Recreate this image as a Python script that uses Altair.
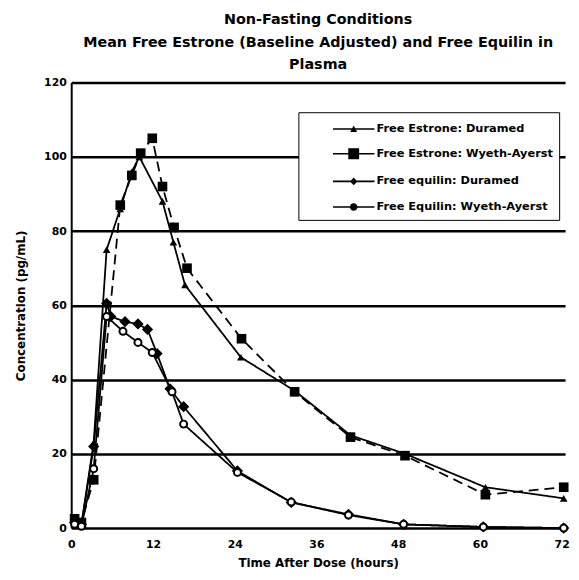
import altair as alt
import pandas as pd

series_names = [
    "Free Estrone: Duramed",
    "Free Estrone: Wyeth-Ayerst",
    "Free equilin: Duramed",
    "Free Equilin: Wyeth-Ayerst",
]

# Free Estrone: Duramed (triangles, solid)
e_dur_t = [0.5, 1.5, 3.3, 5.2, 7.2, 8.9, 10.0, 13.4, 15.0, 16.7, 24.9, 32.8, 41.0, 49.0, 60.8, 72.3]
e_dur_v = [2, 1, 23, 75, 86, 96, 100, 88, 77, 65.5, 46, 37, 25, 20, 11, 8]

# Free Estrone: Wyeth-Ayerst (squares, dashed)
e_wy_t = [0.5, 1.5, 3.3, 7.2, 8.9, 10.2, 11.9, 13.4, 15.1, 17.0, 25.0, 32.8, 41.0, 49.0, 60.8, 72.3]
e_wy_v = [2.5, 1.5, 13, 87, 95, 101, 105, 92, 81, 70, 51, 36.7, 24.5, 19.5, 9, 11]

# Free equilin: Duramed
q_dur_t = [0.5, 1.5, 3.3, 5.2, 5.8, 7.9, 9.8, 11.2, 12.6, 14.5, 16.5, 24.4, 32.3, 40.7, 48.8, 60.5, 72.3]
q_dur_v = [1.5, 1, 22, 60.5, 57, 55.6, 55, 53.5, 47, 37.5, 32.7, 15.4, 6.9, 3.7, 1, 0.3, 0]

# Free Equilin: Wyeth-Ayerst (circles)
q_wy_t = [0.5, 1.5, 3.3, 5.2, 7.6, 9.8, 11.9, 14.8, 16.5, 24.4, 32.3, 40.7, 48.8, 60.5, 72.3]
q_wy_v = [1, 0.5, 16, 57, 53, 50, 47.3, 36.7, 28, 15, 7, 3.5, 1, 0.3, 0]

x_ticks = [0, 12, 24, 36, 48, 60, 72]
y_ticks = [0, 20, 40, 60, 80, 100, 120]

rows = []
for name, ts, vs in zip(series_names,
                        [e_dur_t, e_wy_t, q_dur_t, q_wy_t],
                        [e_dur_v, e_wy_v, q_dur_v, q_wy_v]):
    for t, v in zip(ts, vs):
        rows.append({"time": t, "value": v, "series": name, "legend_series": name})
df = pd.DataFrame(rows)

FONT = "DejaVu Sans"

x_enc = alt.X(
    "time:Q",
    scale=alt.Scale(domain=[0, 72.5], nice=False, zero=False),
    axis=alt.Axis(values=x_ticks, title="Time After Dose (hours)", grid=False,
                  ticks=False, domain=False, labelFont=FONT, labelFontSize=11,
                  labelFontWeight="bold", labelColor="black", labelPadding=11,
                  titleFont=FONT, titleFontSize=12, titleFontWeight="bold",
                  titleColor="black", titlePadding=8, labelFlush=False),
)
y_enc = alt.Y(
    "value:Q",
    scale=alt.Scale(domain=[0, 120], nice=False),
    axis=alt.Axis(values=y_ticks, title="Concentration (pg/mL)", grid=True,
                  gridColor="black", gridWidth=2.5, gridOpacity=1,
                  ticks=False, domain=True, domainColor="black", domainWidth=2,
                  labelFont=FONT, labelFontSize=11, labelFontWeight="bold",
                  labelColor="black", labelPadding=5,
                  titleFont=FONT, titleFontSize=12, titleFontWeight="bold",
                  titleColor="black", titlePadding=16),
)

lines = alt.Chart(df).mark_line(color="black", strokeWidth=1.8).encode(
    x=x_enc, y=y_enc, detail="series:N",
    strokeDash=alt.StrokeDash("series:N",
                              scale=alt.Scale(domain=series_names,
                                              range=[[1, 0], [10, 6], [1, 0], [1, 0]]),
                              legend=None),
    order="time:Q",
)

filled_pts = alt.Chart(df).transform_filter(
    alt.datum.series != series_names[3]
).mark_point(filled=True, color="black", opacity=1).encode(
    x=x_enc, y=y_enc,
    shape=alt.Shape("series:N",
                    scale=alt.Scale(domain=series_names[:3],
                                    range=["triangle-up", "square", "diamond"]),
                    legend=None),
    size=alt.Size("series:N",
                  scale=alt.Scale(domain=series_names[:3], range=[60, 130, 80]),
                  legend=None),
)

circle_pts = alt.Chart(df).transform_filter(
    alt.datum.series == series_names[3]
).mark_point(shape="circle", filled=False, fill="white", fillOpacity=1,
             stroke="black", strokeWidth=2, size=50, opacity=1).encode(
    x=x_enc, y=y_enc,
)

BAR = "M-2.1,-0.08H2.1V0.08H-2.1Z"
leg_paths = [
    BAR + "M0,-0.35L0.35,0.3L-0.35,0.3Z",
    BAR + "M-0.55,-0.55H0.55V0.55H-0.55Z",
    BAR + "M0,-0.38L0.38,0L0,0.38L-0.38,0Z",
    BAR + "M-0.38,0A0.38,0.38 0 1,1 0.38,0A0.38,0.38 0 1,1 -0.38,0Z",
]

legend_layer = alt.Chart(df).mark_point(
    filled=True, color="black", opacity=0
).encode(
    x=x_enc, y=y_enc,
    shape=alt.Shape(
        "legend_series:N",
        scale=alt.Scale(domain=series_names, range=leg_paths),
        legend=alt.Legend(
            title=None, orient="none", legendX=230, legendY=30,
            fillColor="white", strokeColor="black", padding=6,
            symbolSize=400, symbolOffset=39, labelOffset=12,
            symbolFillColor="black", symbolStrokeColor="black",
            symbolOpacity=1,
            rowPadding=8, labelLimit=400,
            labelFont=FONT, labelFontSize=11.5, labelFontWeight="bold",
            labelColor="black",
        ),
    ),
)

chart = alt.layer(lines, filled_pts, circle_pts, legend_layer).resolve_scale(
    shape="independent", size="independent"
).properties(
    width=500, height=451,
    padding={"left": 64, "top": 72, "right": 6, "bottom": 45},
    autosize=alt.AutoSizeParams(type="none"),
    background="white",
    title=alt.Title(
        ["Non-Fasting Conditions",
         "Mean Free Estrone (Baseline Adjusted) and Free Equilin in",
         "Plasma"],
        font=FONT, fontSize=14.5, fontWeight="bold", lineHeight=23,
        offset=4, anchor="middle", color="black",
    ),
).configure_view(stroke="transparent")

chart.save("out.html", embed_options={"renderer": "svg", "actions": False})
